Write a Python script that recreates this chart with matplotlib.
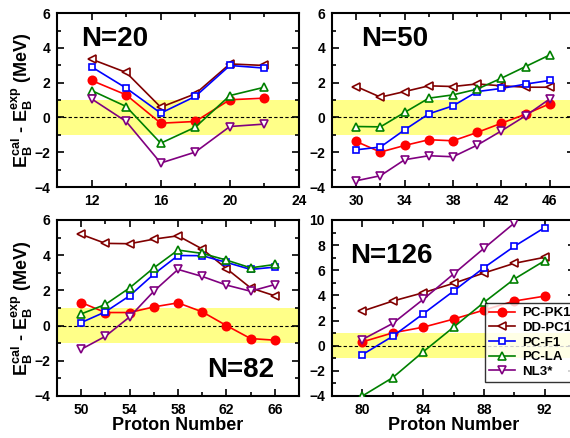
import matplotlib
matplotlib.use("Agg")
import matplotlib.pyplot as plt
from matplotlib.ticker import MultipleLocator

plt.rcParams["font.family"] = ["Liberation Sans", "DejaVu Sans"]
plt.rcParams["font.weight"] = "bold"
plt.rcParams["mathtext.fontset"] = "custom"
plt.rcParams["mathtext.bf"] = "Liberation Sans:bold"
plt.rcParams["mathtext.rm"] = "Liberation Sans:bold"
plt.rcParams["mathtext.default"] = "bf"

models = ["PC-PK1", "DD-PC1", "PC-F1", "PC-LA", "NL3*"]
colors = ["#ff0000", "#800000", "#0000ff", "#008000", "#800080"]
markers = ["o", "<", "s", "^", "v"]
msizes = [6.0, 5.2, 4.0, 5.2, 5.2]

# N=20
z_n20 = [12, 14, 16, 18, 20, 22]
n20 = {
    "PC-PK1": [2.13, 1.30, -0.33, -0.23, 1.02, 1.11],
    "DD-PC1": [3.35, 2.59, 0.59, 1.36, 3.08, 2.99],
    "PC-F1": [2.91, 1.69, 0.25, 1.21, 2.99, 2.84],
    "PC-LA": [1.55, 0.63, -1.48, -0.56, 1.26, 1.74],
    "NL3*": [1.07, -0.23, -2.62, -1.99, -0.52, -0.38],
}

# N=50
z_n50 = [30, 32, 34, 36, 38, 40, 42, 44, 46]
n50 = {
    "PC-PK1": [-1.38, -1.99, -1.61, -1.28, -1.34, -0.86, -0.33, 0.19, 0.79],
    "DD-PC1": [1.78, 1.17, 1.49, 1.82, 1.78, 1.93, 1.82, 1.74, 1.74],
    "PC-F1": [-1.86, -1.70, -0.71, 0.21, 0.67, 1.49, 1.67, 1.92, 2.13],
    "PC-LA": [-0.52, -0.54, 0.29, 1.11, 1.30, 1.63, 2.26, 2.93, 3.60],
    "NL3*": [-3.64, -3.35, -2.43, -2.20, -2.26, -1.59, -0.77, 0.10, 1.07],
}

# N=82
z_n82 = [50, 52, 54, 56, 58, 60, 62, 64, 66]
n82 = {
    "PC-PK1": [1.31, 0.74, 0.74, 1.06, 1.29, 0.78, 0.00, -0.74, -0.83],
    "DD-PC1": [5.18, 4.67, 4.65, 4.91, 5.10, 4.35, 3.24, 2.14, 1.69],
    "PC-F1": [0.17, 0.78, 1.69, 2.92, 3.98, 3.97, 3.59, 3.19, 3.32],
    "PC-LA": [0.66, 1.20, 2.14, 3.28, 4.29, 4.10, 3.72, 3.28, 3.47],
    "NL3*": [-1.35, -0.61, 0.49, 1.95, 3.19, 2.79, 2.30, 1.95, 2.33],
}

# N=126
z_n126 = [80, 82, 84, 86, 88, 90, 92]
n126 = {
    "PC-PK1": [0.30, 1.02, 1.47, 2.11, 2.83, 3.55, 3.94],
    "DD-PC1": [2.75, 3.55, 4.21, 4.96, 5.78, 6.55, 7.03],
    "PC-F1": [-0.71, 0.75, 2.53, 4.34, 6.20, 7.90, 9.39],
    "PC-LA": [-4.00, -2.54, -0.49, 1.47, 3.44, 5.30, 6.76],
    "NL3*": [0.49, 1.77, 3.68, 5.70, 7.74, 9.75],
}

ylabel = r"$E_B^{cal}$ - $E_B^{exp}$ (MeV)"

fig = plt.figure(figsize=(5.7, 4.38), dpi=100)

panels = [
    # rect, z, data, label, label pos, xlim, xticks, ylim
    ([0.100, 0.573, 0.4246, 0.397], z_n20, n20, "N=20", (0.10, 0.81), (10, 24), [12, 16, 20, 24], (-4, 6)),
    ([0.5825, 0.573, 0.4246, 0.397], z_n50, n50, "N=50", (0.12, 0.81), (28, 48), [30, 34, 38, 42, 46], (-4, 6)),
    ([0.100, 0.096, 0.4246, 0.4018], z_n82, n82, "N=82", (0.62, 0.11), (48, 68), [50, 54, 58, 62, 66], (-4, 6)),
    ([0.5825, 0.096, 0.4263, 0.4018], z_n126, n126, "N=126", (0.075, 0.755), (78, 94), [80, 84, 88, 92], (-4, 10)),
]

for i, (rect, z, data, lab, lpos, xlim, xt, ylim) in enumerate(panels):
    ax = fig.add_axes(rect)
    ax.axhspan(-1, 1, color="#ffff88", zorder=0, lw=0)
    ax.axhline(0, color="black", ls="--", lw=0.8, dashes=(3, 2), zorder=1)
    for m, c, mk, ms in zip(models, colors, markers, msizes):
        y = data[m]
        filled = mk == "o"
        ax.plot(z[:len(y)], y, color=c, marker=mk, lw=1.2,
                ms=ms, mew=1.2,
                mfc=c if filled else "white", mec=c, label=m,
                zorder=3)
    ax.set_xlim(*xlim)
    ax.set_ylim(*ylim)
    ax.set_xticks(xt)
    ax.xaxis.set_minor_locator(MultipleLocator(2))
    ax.yaxis.set_major_locator(MultipleLocator(2))
    ax.yaxis.set_minor_locator(MultipleLocator(1))
    ax.tick_params(which="both", direction="in", top=True, right=True,
                   labelsize=10, width=1.2)
    ax.tick_params(which="major", length=5, pad=5)
    ax.tick_params(which="minor", length=3)
    for t in ax.get_xticklabels() + ax.get_yticklabels():
        t.set_fontweight("bold")
    for s in ax.spines.values():
        s.set_linewidth(1.5)
    ax.text(lpos[0], lpos[1], lab, transform=ax.transAxes, fontsize=20,
            fontweight="bold", ha="left", va="baseline")
    if i % 2 == 0:
        ax.set_ylabel(ylabel, fontsize=13, fontweight="bold")
        ax.yaxis.set_label_coords(-0.09, 0.5)
    if i >= 2:
        ax.set_xlabel("Proton Number", fontsize=13, fontweight="bold", labelpad=0)
    if i == 3:
        leg = ax.legend(loc="lower right", bbox_to_anchor=(1.0, 0.08),
                        borderaxespad=0, fontsize=9.5, frameon=True,
                        fancybox=False, edgecolor="black", handlelength=2.0,
                        borderpad=0.3, labelspacing=0.18, handletextpad=0.5)
        leg.get_frame().set_linewidth(1.0)
        for t in leg.get_texts():
            t.set_fontweight("bold")

fig.savefig("out.png", dpi=100)
